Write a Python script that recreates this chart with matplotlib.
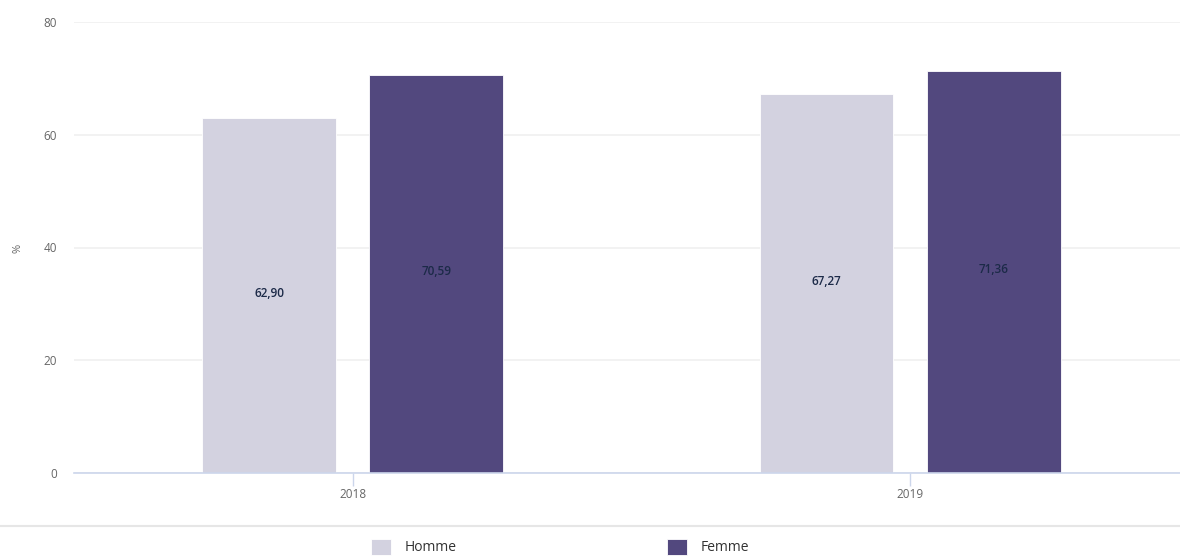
import matplotlib.pyplot as plt
from matplotlib.lines import Line2D
import numpy as np

# Données
annees = ['2018', '2019']
homme = [62.90, 67.27]
femme = [70.59, 71.36]
series = ['Homme', 'Femme']
couleurs = ['#d3d2e0', '#52487e']

plt.rcParams['font.family'] = ['Open Sans', 'DejaVu Sans']

fig = plt.figure(figsize=(11.8, 5.58), dpi=100)
ax = fig.add_axes([74 / 1180, 1 - 473 / 558, 1 - 74 / 1180, (473 - 22) / 558])

x = np.arange(len(annees))
largeur = 0.24
b1 = ax.bar(x - 0.15, homme, largeur, color=couleurs[0], edgecolor='white', linewidth=0.6, label=series[0], zorder=3)
b2 = ax.bar(x + 0.15, femme, largeur, color=couleurs[1], edgecolor='white', linewidth=0.6, label=series[1], zorder=3)

# étiquettes des valeurs au milieu des barres
for barres, vals in [(b1, homme), (b2, femme)]:
    for rect, v in zip(barres, vals):
        ax.text(rect.get_x() + rect.get_width() / 2, v / 2 + 0.4, f'{v:.2f}'.replace('.', ','),
                ha='center', va='center', fontsize=8.5, fontweight='semibold', color='#1c2a48', zorder=4)

ax.set_ylim(0, 80)
ax.set_xlim(-0.5, 1.484)
ax.set_yticks([0, 20, 40, 60, 80])
ax.set_xticks(x)
ax.set_xticklabels(annees)
ax.grid(axis='y', color='#f0f0f0', linewidth=1.2, zorder=0)
ax.tick_params(axis='y', length=0, pad=12, labelsize=8.5, labelcolor='#666666')
ax.tick_params(axis='x', length=9, width=1, color='#ccd6eb', pad=2, labelsize=8.5, labelcolor='#666666')
for s in ['top', 'right', 'left']:
    ax.spines[s].set_visible(False)
ax.spines['bottom'].set_color('#ccd6eb')
ax.spines['bottom'].set_linewidth(1.2)
ax.spines['bottom'].set_zorder(5)

fig.text(18 / 1180, 1 - 248 / 558, '%', rotation=90, ha='center', va='center', fontsize=8, color='#666666')

# séparateur + légende
fig.add_artist(Line2D([0, 1], [1 - 526 / 558] * 2, color='#e6e6e6', linewidth=1.5, transform=fig.transFigure))
leg = fig.legend(handles=[b1, b2], labels=series, loc='center', ncol=2,
                 bbox_to_anchor=(560 / 1180, 1 - 547 / 558), frameon=False, fontsize=10,
                 handlelength=1.45, handleheight=1.45, handletextpad=0.95, columnspacing=15.15,
                 labelcolor='#333333')

fig.savefig('out.png', dpi=100)
